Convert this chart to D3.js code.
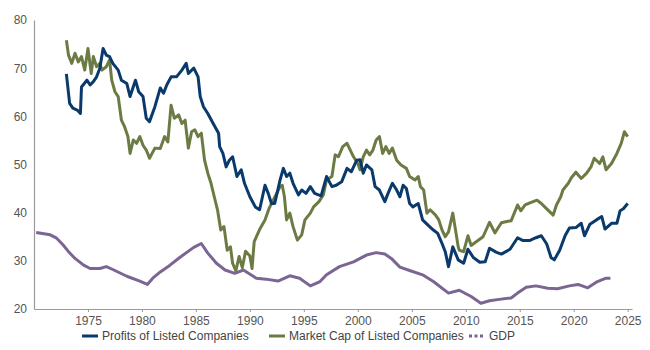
<!DOCTYPE html>
<html>
<head>
<meta charset="utf-8">
<script src="https://cdn.jsdelivr.net/npm/d3@7"></script>
<style>
  body { margin: 0; background: #fff; }
  #chart text { font-family: "Liberation Sans", Arial, sans-serif; }
</style>
</head>
<body>
<div id="chart"></div>
<script>
// Profits vs market cap of listed companies vs GDP (share, %)

const seriesNames = ["Profits of Listed Companies", "Market Cap of Listed Companies", "GDP"];
const xTicks = [1975, 1980, 1985, 1990, 1995, 2000, 2005, 2010, 2015, 2020, 2025];
const yTicks = [20, 30, 40, 50, 60, 70, 80];

// [year, value]
const profits = [
  [1973.0, 68.8], [1973.3, 62.7], [1973.6, 61.7], [1974.0, 61.3], [1974.3, 60.6], [1974.4, 66.1],
  [1974.9, 67.5], [1975.2, 66.5], [1975.5, 67.2], [1975.8, 68.2], [1976.1, 70.0], [1976.4, 74.1],
  [1976.7, 72.7], [1977.0, 72.4], [1977.3, 71.0], [1977.8, 69.6], [1978.1, 67.5], [1978.6, 66.8],
  [1978.9, 64.1], [1979.4, 67.5], [1979.7, 65.1], [1980.1, 64.1], [1980.4, 59.6], [1980.7, 58.9],
  [1981.2, 62.0], [1981.7, 65.9], [1982.0, 64.8], [1982.3, 66.5], [1982.7, 68.2], [1983.2, 68.2],
  [1983.7, 69.6], [1984.1, 71.0], [1984.3, 68.9], [1984.8, 70.0], [1985.2, 68.2], [1985.4, 64.1],
  [1985.7, 62.0], [1986.1, 60.6], [1986.6, 58.5], [1987.1, 56.5], [1987.2, 53.7], [1987.5, 52.3],
  [1987.8, 49.5], [1988.1, 50.9], [1988.4, 51.6], [1988.8, 47.5], [1989.2, 48.9], [1989.5, 46.1],
  [1990.0, 43.3], [1990.5, 41.2], [1990.9, 40.6], [1991.4, 45.7], [1991.7, 44.0], [1992.0, 41.9],
  [1992.3, 41.9], [1992.8, 46.8], [1993.1, 49.2], [1993.4, 47.5], [1993.7, 48.2], [1994.0, 46.1],
  [1994.5, 43.7], [1994.8, 44.7], [1995.2, 44.0], [1995.6, 45.4], [1996.0, 44.0], [1996.6, 43.5],
  [1997.1, 47.5], [1997.6, 45.4], [1998.0, 45.7], [1998.5, 46.4], [1999.0, 49.2], [1999.4, 48.5],
  [1999.9, 50.9], [2000.2, 51.0], [2000.5, 48.2], [2000.8, 49.9], [2001.3, 48.9], [2001.6, 45.4],
  [2002.0, 44.7], [2002.5, 42.3], [2002.8, 44.0], [2003.2, 46.1], [2003.6, 44.7], [2003.9, 43.3],
  [2004.2, 45.7], [2004.5, 45.0], [2004.8, 41.9], [2005.1, 41.2], [2005.6, 41.9], [2006.0, 38.5],
  [2006.5, 37.4], [2007.0, 36.4], [2007.4, 35.7], [2007.8, 33.6], [2008.1, 31.9], [2008.4, 28.8],
  [2008.8, 32.9], [2009.3, 30.2], [2009.8, 29.5], [2010.2, 32.4], [2010.7, 30.7], [2011.3, 29.7],
  [2011.8, 29.8], [2012.2, 32.6], [2012.8, 31.8], [2013.3, 31.4], [2014.1, 32.4], [2014.8, 34.8],
  [2015.3, 34.2], [2015.9, 34.2], [2016.5, 34.8], [2017.0, 35.2], [2017.5, 33.5], [2017.9, 30.7],
  [2018.2, 30.2], [2018.7, 32.2], [2019.2, 35.2], [2019.6, 36.8], [2020.2, 36.9], [2020.7, 37.8],
  [2021.0, 35.2], [2021.5, 37.6], [2022.1, 38.5], [2022.6, 39.2], [2022.9, 36.6], [2023.5, 37.8],
  [2024.0, 37.8], [2024.3, 40.4], [2024.6, 40.8], [2025.0, 41.9]
];

const marketCap = [
  [1973.0, 75.8], [1973.2, 72.7], [1973.5, 71.0], [1973.8, 73.1], [1974.1, 71.3], [1974.4, 72.4],
  [1974.7, 69.6], [1975.0, 74.1], [1975.3, 68.9], [1975.5, 72.4], [1975.8, 70.3], [1976.1, 71.0],
  [1976.3, 69.6], [1976.7, 70.3], [1977.0, 71.7], [1977.2, 67.5], [1977.5, 65.1], [1977.8, 64.1],
  [1978.1, 59.2], [1978.4, 57.8], [1978.7, 55.8], [1978.9, 52.3], [1979.2, 55.1], [1979.5, 54.4],
  [1979.8, 55.8], [1980.1, 54.0], [1980.4, 53.0], [1980.7, 51.3], [1981.2, 53.4], [1981.7, 53.3],
  [1982.1, 55.8], [1982.4, 54.7], [1982.7, 62.3], [1983.0, 59.6], [1983.4, 60.3], [1983.7, 58.5],
  [1984.0, 59.2], [1984.3, 53.4], [1984.6, 56.8], [1984.9, 57.2], [1985.2, 55.8], [1985.5, 56.5],
  [1985.8, 50.9], [1986.1, 48.2], [1986.4, 46.1], [1986.7, 43.3], [1987.0, 40.6], [1987.3, 36.4],
  [1987.6, 37.1], [1987.9, 32.2], [1988.2, 32.9], [1988.4, 29.5], [1988.7, 27.9], [1989.0, 30.9],
  [1989.3, 28.6], [1989.6, 32.0], [1990.0, 31.0], [1990.2, 28.4], [1990.4, 34.0], [1990.9, 36.5],
  [1991.4, 38.5], [1991.8, 41.0], [1992.3, 43.2], [1992.8, 45.4], [1993.0, 45.7], [1993.2, 43.3],
  [1993.4, 38.5], [1993.7, 39.9], [1994.0, 37.1], [1994.4, 34.3], [1994.8, 35.4], [1995.1, 38.5],
  [1995.6, 39.9], [1995.9, 41.2], [1996.4, 42.3], [1996.8, 43.7], [1997.1, 46.8], [1997.6, 47.5],
  [1997.9, 52.0], [1998.2, 51.6], [1998.6, 53.7], [1999.0, 54.4], [1999.3, 53.0], [1999.6, 51.6],
  [2000.0, 50.2], [2000.2, 48.9], [2000.5, 51.6], [2000.8, 53.0], [2001.1, 52.0], [2001.4, 53.0],
  [2001.7, 55.1], [2002.0, 55.8], [2002.3, 52.3], [2002.6, 53.7], [2002.9, 52.3], [2003.2, 53.4],
  [2003.6, 50.9], [2004.0, 49.9], [2004.5, 49.2], [2004.8, 47.5], [2005.3, 46.8], [2005.6, 47.5],
  [2005.8, 45.4], [2006.1, 44.7], [2006.4, 39.9], [2006.7, 40.6], [2007.2, 39.5], [2007.5, 38.5],
  [2007.8, 36.4], [2008.1, 35.0], [2008.4, 36.0], [2008.8, 39.9], [2009.0, 37.1], [2009.3, 32.9],
  [2009.4, 32.2], [2009.8, 31.9], [2010.2, 35.2], [2010.5, 33.2], [2011.0, 34.0], [2011.6, 35.0],
  [2012.2, 38.0], [2012.7, 35.8], [2013.3, 37.9], [2013.9, 38.2], [2014.2, 38.3], [2014.8, 41.6],
  [2015.1, 40.4], [2015.5, 41.6], [2016.0, 42.1], [2016.6, 42.6], [2017.0, 41.9], [2017.5, 40.8],
  [2018.1, 39.5], [2018.4, 41.6], [2018.8, 43.3], [2019.0, 44.7], [2019.5, 46.1], [2019.8, 47.3],
  [2020.2, 48.4], [2020.7, 47.1], [2021.2, 48.2], [2021.6, 49.5], [2021.9, 51.3], [2022.4, 50.2],
  [2022.7, 51.6], [2023.0, 48.9], [2023.5, 50.2], [2024.0, 52.3], [2024.4, 54.4], [2024.7, 56.8],
  [2025.0, 55.8]
];

const gdp = [
  [1970.2, 35.9], [1971.5, 35.4], [1972.1, 34.7], [1972.7, 33.3], [1973.2, 31.9], [1973.8, 30.5],
  [1974.6, 29.1], [1975.2, 28.4], [1976.1, 28.4], [1976.7, 28.8], [1977.3, 28.2], [1978.6, 26.8],
  [1979.8, 25.8], [1980.5, 25.1], [1981.0, 26.4], [1981.7, 27.7], [1982.6, 29.1], [1983.5, 30.7],
  [1984.8, 32.8], [1985.5, 33.6], [1986.1, 31.6], [1986.9, 29.5], [1987.7, 28.1], [1988.6, 27.4],
  [1989.4, 28.1], [1990.6, 26.4], [1991.5, 26.2], [1992.6, 25.8], [1993.7, 26.9], [1994.6, 26.4],
  [1995.6, 24.8], [1996.5, 25.7], [1997.1, 27.1], [1998.3, 28.8], [1999.6, 29.8], [2000.8, 31.2],
  [2001.7, 31.7], [2002.5, 31.4], [2003.1, 30.5], [2003.9, 28.7], [2004.8, 28.0], [2006.0, 27.1],
  [2007.0, 25.7], [2008.4, 23.3], [2009.4, 23.9], [2010.5, 22.6], [2011.4, 21.2], [2012.2, 21.7],
  [2013.1, 22.0], [2014.2, 22.3], [2014.8, 23.3], [2015.6, 24.5], [2016.5, 24.8], [2017.6, 24.3],
  [2018.5, 24.2], [2019.6, 24.8], [2020.4, 25.1], [2021.3, 24.4], [2022.2, 25.7], [2023.0, 26.4],
  [2023.4, 26.4]
];

const width = 650;
const height = 350;

const svg = d3.select("#chart")
    .append("svg")
    .attr("width", width)
    .attr("height", height);

// Scales
const xScale = d3.scaleLinear().domain([1970, 2025.4]).range([34, 632]);
const yScale = d3.scaleLinear().domain([20, 80]).range([309, 20]);

const colorScale = d3.scaleOrdinal()
    .domain(seriesNames)
    .range(["#0a3a6c", "#6c7b44", "#7b6592"]);

// Axes
const xAxis = svg.append("g")
    .attr("transform", `translate(0,${yScale(20)})`)
    .call(d3.axisBottom(xScale)
        .tickValues(xTicks)
        .tickFormat(d3.format("d"))
        .tickSize(3)
        .tickSizeOuter(0)
        .tickPadding(4));

const yAxis = svg.append("g")
    .attr("transform", `translate(${xScale(1970)},0)`)
    .call(d3.axisLeft(yScale)
        .tickValues(yTicks)
        .tickSize(0)
        .tickPadding(7));

svg.selectAll(".domain").attr("stroke", "#9a9a9a").attr("stroke-width", 1.2);
xAxis.selectAll(".tick line").attr("stroke", "#9a9a9a");
svg.selectAll(".tick text")
    .attr("fill", "#555")
    .style("font-size", "12px");

// Line generator
const line = d3.line()
    .x(d => xScale(d[0]))
    .y(d => yScale(d[1]));

const drawOrder = [
    { name: "GDP", data: gdp },
    { name: "Market Cap of Listed Companies", data: marketCap },
    { name: "Profits of Listed Companies", data: profits }
];

drawOrder.forEach(s => {
    svg.append("path")
        .datum(s.data)
        .attr("fill", "none")
        .attr("stroke", colorScale(s.name))
        .attr("stroke-width", 3)
        .attr("stroke-linejoin", "round")
        .attr("d", line);
});

// Legend
const legendX = [82, 269, 469];
const legendY = 336;

const legend = svg.append("g");
seriesNames.forEach((name, i) => {
    const g = legend.append("g").attr("transform", `translate(${legendX[i]},${legendY})`);
    g.append("line")
        .attr("x1", 0).attr("x2", 16)
        .attr("stroke", colorScale(name))
        .attr("stroke-width", 3)
        .attr("stroke-dasharray", name === "GDP" ? "3,2.5" : null);
    g.append("text")
        .attr("x", 20)
        .attr("dy", "0.35em")
        .attr("fill", "#444")
        .style("font-size", "12px")
        .text(name);
});
</script>
</body>
</html>
